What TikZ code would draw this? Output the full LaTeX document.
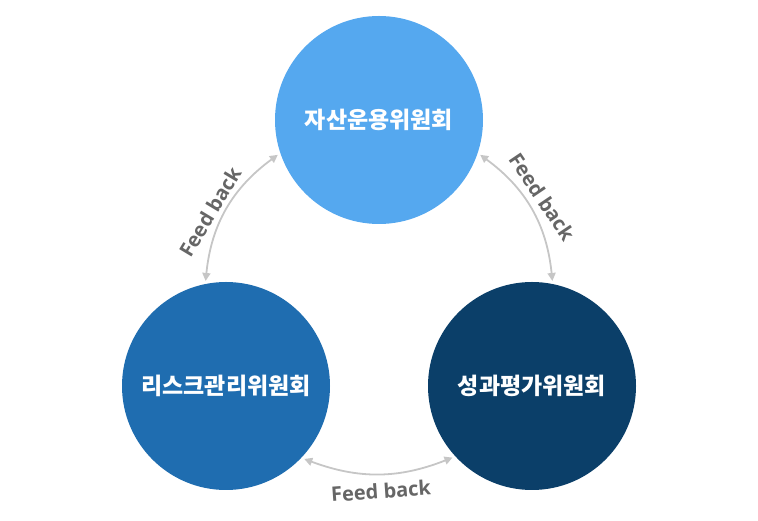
\documentclass[tikz,border=0pt]{standalone}
\usepackage{fontspec}
\setmainfont{Open Sans}
\newfontfamily\kofont{Noto Sans CJK KR}
\usetikzlibrary{arrows.meta}
\definecolor{cA}{HTML}{55A8EF}
\definecolor{cB}{HTML}{1F6DB0}
\definecolor{cC}{HTML}{0B3F69}
\definecolor{arr}{HTML}{C6C6C6}
\definecolor{lab}{HTML}{666666}
\begin{document}
\begin{tikzpicture}[x=1pt,y=1pt,
  comm/.style={circle,minimum size=208pt,inner sep=0pt,outer sep=3pt,
    text=white,font=\kofont\bfseries\fontsize{23}{26}\selectfont},
  fb/.style={draw=arr,line width=1.8pt,{Triangle[length=8pt,width=8pt]}-{Triangle[length=8pt,width=8pt]}},
  fblabel/.style={text=lab,font=\bfseries\fontsize{20}{23}\selectfont,inner sep=0pt}]
\useasboundingbox (0,0) rectangle (758,521);
\node[comm,fill=cA] (top) at (379,401) {자산운용위원회};
\node[comm,fill=cB] (left) at (226,135) {리스크관리위원회};
\node[comm,fill=cC] (right) at (532,135) {성과평가위원회};
\draw[fb] (left.101) to[bend left=24] (top.199);
\draw[fb] (top.-19) to[bend left=24] (right.79);
\draw[fb] (right.222) to[bend left=21] (left.-43);
\node[fblabel,rotate=59] (l1) at (210,309) {Feed back};
\node[fblabel,rotate=-56] (l2) at (542,324) {Feed back};
\node[fblabel,rotate=4] (l3) at (381,30) {Feed back};
\end{tikzpicture}
\end{document}
